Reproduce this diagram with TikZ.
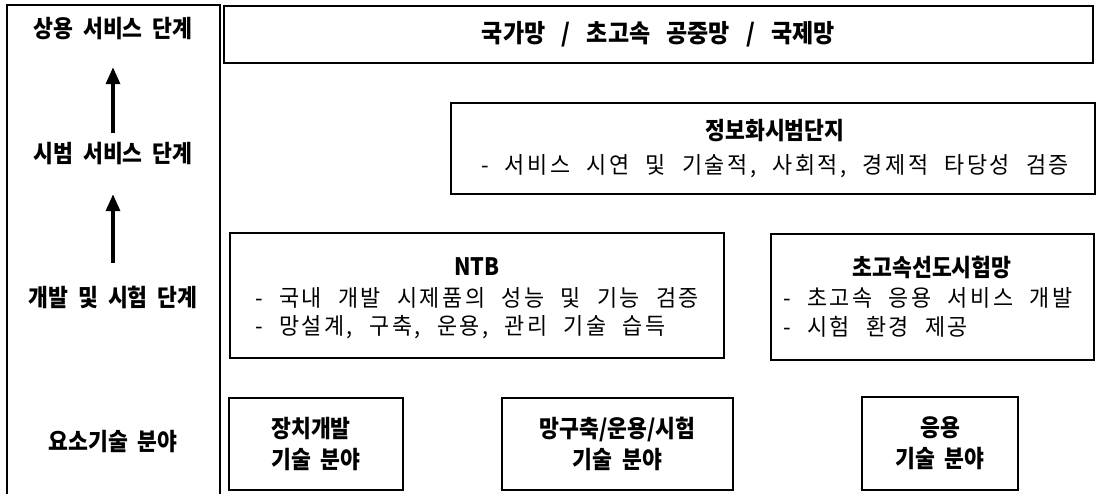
\documentclass[tikz,border=0pt]{standalone}
\usepackage{fontspec}
\setmainfont{Noto Sans CJK KR}[WordSpace=2.0,FakeStretch=0.9]
\newfontfamily\regfont{Noto Sans CJK KR}[LetterSpace=11,WordSpace=2.2,FakeStretch=0.95]
\newfontfamily\topfont{Noto Sans CJK KR}[WordSpace=3.1,FakeStretch=0.92]
\usetikzlibrary{arrows.meta}
\begin{document}
\begin{tikzpicture}[x=1pt,y=-1pt,
  frame/.style={line width=1.5pt},
  box/.style={draw, line width=1.6pt, inner sep=0pt},
  lbl/.style={font=\bfseries\fontsize{24}{28}\selectfont, inner sep=0pt, text height=17pt, text depth=5pt},
  ttl/.style={font=\bfseries\fontsize{24}{28}\selectfont, inner sep=0pt},
  bul/.style={font=\regfont\fontsize{23}{27}\selectfont, inner sep=0pt, anchor=west},
  bbox/.style={box, font=\bfseries\fontsize{24}{31}\selectfont},
  arr/.style={line width=3.5pt, -{Triangle[length=17pt,width=14pt]}}]
\useasboundingbox (0,0) rectangle (1097,494);
\fill[white] (0,0) rectangle (1097,494);
% left column
\draw[frame] (7,494) -- (7,5) -- (220,5) -- (220,494);
\node[lbl] (L1) at (113,32) {상용 서비스 단계};
\node[lbl] (L2) at (113,157) {시범 서비스 단계};
\node[lbl] (L3) at (113,300) {개발 및 시험 단계};
\node[lbl] (L4) at (113,444) {요소기술 분야};
\draw[arr, shorten <=13pt, shorten >=24pt] (L2.north) -- (L1.south);
\draw[arr, shorten <=26pt, shorten >=26pt] (L3.north) -- (L2.south);
% top box
\node[box, minimum width=869, minimum height=57, font=\topfont\bfseries\fontsize{25}{29}\selectfont] (top) at (658.5,34.5) {국가망 / 초고속 공중망 / 국제망};
% pilot box
\node[box, minimum width=644, minimum height=91] (pilot) at (773,148.5) {};
\node[ttl] (pilotT) at (775,131) {정보화시범단지};
\node[bul, anchor=center] (pilotB) at (775,166) {- 서비스 시연 및 기술적, 사회적, 경제적 타당성 검증};
% NTB box
\node[box, minimum width=494, minimum height=125] (ntb) at (477,295.5) {};
\node[ttl] (ntbT) at (477,267) {NTB};
\node[bul] (ntbB1) at (255,298) {- 국내 개발 시제품의 성능 및 기능 검증};
\node[bul] (ntbB2) at (255,327) {- 망설계, 구축, 운용, 관리 기술 습득};
% high-speed testbed box
\node[box, minimum width=323, minimum height=126] (hs) at (932.5,297) {};
\node[ttl] (hsT) at (932,267) {초고속선도시험망};
\node[bul] (hsB1) at (783,298) {- 초고속 응용 서비스 개발};
\node[bul] (hsB2) at (783,327) {- 시험 환경 제공};
% bottom boxes
\node[bbox, minimum width=174, minimum height=92, align=left] (dev) at (316,444) {장치개발\\기술 분야};
\node[bbox, minimum width=231, minimum height=92, align=center] (net) at (617.5,444) {망구축/운용/시험\\기술 분야};
\node[bbox, minimum width=156, minimum height=93, align=center] (app) at (940,443.5) {응용\\기술 분야};
\end{tikzpicture}
\end{document}
